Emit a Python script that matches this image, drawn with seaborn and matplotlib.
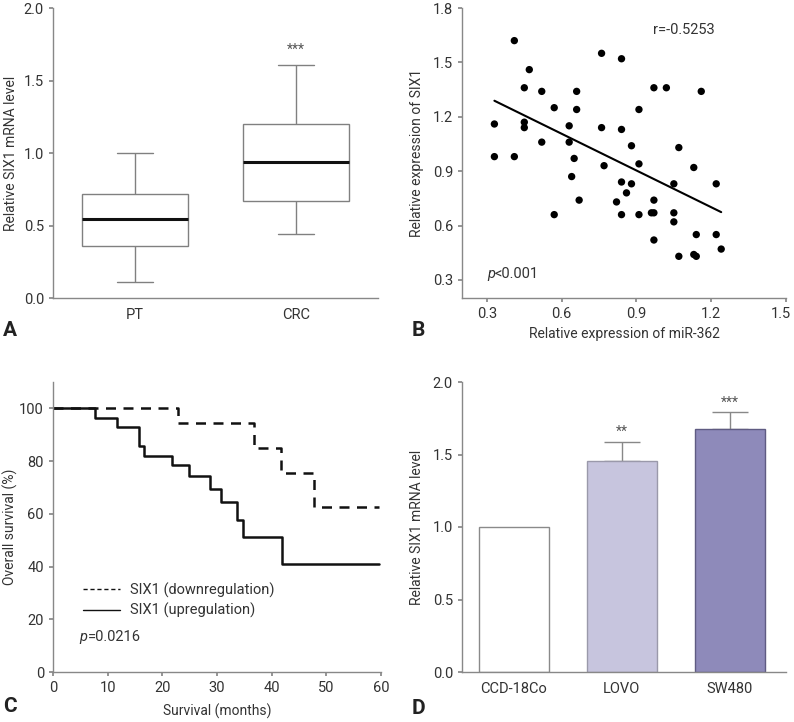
import numpy as np
import pandas as pd
import matplotlib
matplotlib.use("Agg")
import matplotlib.pyplot as plt
import matplotlib.transforms as mtrans
import seaborn as sns
from matplotlib.lines import Line2D

# ---------------- data ----------------
# Panel A: box summary (low whisker, Q1, median, Q3, high whisker)
box_groups = ["PT", "CRC"]
pt_stats = [0.11, 0.36, 0.545, 0.72, 1.00]
crc_stats = [0.44, 0.67, 0.94, 1.20, 1.61]

# Panel B: scatter
mir362 = [0.41, 0.76, 0.84, 0.47, 0.45, 0.52, 0.66, 0.97, 1.02, 1.16,
          0.57, 0.66, 0.91, 0.33, 0.45, 0.45, 0.63, 0.76, 0.84, 0.52,
          0.63, 0.88, 1.07, 0.33, 0.41, 0.65, 0.77, 0.91, 1.13, 0.64,
          0.84, 0.88, 1.05, 1.22, 0.86, 0.67, 0.82, 0.97, 0.57, 0.84,
          0.91, 0.96, 0.97, 1.05, 1.05, 0.97, 1.14, 1.22, 1.24, 1.07,
          1.13, 1.14]
six1 = [1.62, 1.55, 1.52, 1.46, 1.36, 1.34, 1.34, 1.36, 1.36, 1.34,
        1.25, 1.24, 1.24, 1.16, 1.17, 1.14, 1.15, 1.14, 1.13, 1.06,
        1.06, 1.04, 1.03, 0.98, 0.98, 0.97, 0.93, 0.94, 0.92, 0.87,
        0.84, 0.83, 0.83, 0.83, 0.78, 0.74, 0.73, 0.74, 0.66, 0.66,
        0.66, 0.67, 0.67, 0.67, 0.62, 0.52, 0.55, 0.55, 0.47, 0.43,
        0.44, 0.43]

# Panel C: Kaplan-Meier step curves
down_time = [0, 22.8, 36.7, 41.7, 47.7, 59.6]
down_surv = [100, 94.3, 85.0, 75.4, 62.6, 62.6]
up_time = [0, 7.75, 11.7, 15.75, 16.7, 21.8, 24.8, 28.75, 30.7, 33.7, 34.7, 41.8, 59.6]
up_surv = [100, 96.3, 93.0, 85.8, 82.1, 78.6, 74.5, 69.6, 64.3, 57.8, 51.2, 41.0, 41.0]

# Panel D: bars
cells = ["CCD-18Co", "LOVO", "SW480"]
cell_vals = [1.0, 1.453, 1.674]
cell_err = [0.0, 0.133, 0.117]
cell_sig = ["", "**", "***"]

# ---------------- style ----------------
sns.set_theme(style="ticks")
plt.rcParams["font.family"] = ["Roboto", "DejaVu Sans"]
TXT = "#333333"
SP = "#888888"
FS = 10.5
plt.rcParams.update({
    "axes.edgecolor": SP, "axes.linewidth": 1.0,
    "xtick.color": SP, "ytick.color": SP,
    "xtick.labelcolor": TXT, "ytick.labelcolor": TXT,
    "xtick.labelsize": FS, "ytick.labelsize": FS,
    "xtick.major.size": 3, "ytick.major.size": 3,
    "axes.labelcolor": TXT, "axes.labelsize": 10,
    "text.color": TXT,
})

fig = plt.figure(figsize=(7.94, 7.22), dpi=100)
W, H = 794, 722
def add_ax(l, r, t, b):
    return fig.add_axes([l / W, 1 - b / H, (r - l) / W, (b - t) / H])

axA = add_ax(53, 378, 8, 298)
axB = add_ax(462, 786, 8, 298)
axC = add_ax(53, 381, 382, 672)
axD = add_ax(462, 786, 382, 672)

# ---------- Panel A ----------
dfA = pd.DataFrame({"group": ["PT"] * 5 + ["CRC"] * 5, "val": pt_stats + crc_stats})
sns.boxplot(data=dfA, x="group", y="val", order=box_groups, ax=axA, width=0.66,
            color="white", linecolor="#808080", linewidth=1.0, whis=np.inf,
            capwidths=0.22,
            medianprops=dict(color="#111111", linewidth=2.2))
axA.set_xlim(-0.51, 1.51)
axA.set_ylim(0, 2.0)
axA.set_yticks(np.arange(0, 2.01, 0.5))
axA.set_yticklabels([f"{v:.1f}" for v in np.arange(0, 2.01, 0.5)])
axA.set_xlabel("")
axA.set_ylabel("Relative SIX1 mRNA level")
axA.yaxis.set_label_coords(-0.108, 0.5)
axA.tick_params(axis="x", length=0, pad=7)
axA.text(1, 1.66, "***", ha="center", va="bottom", fontsize=10, color="#555555")
sns.despine(ax=axA)

# ---------- Panel B ----------
sns.regplot(x=mir362, y=six1, ax=axB, ci=None, truncate=True,
            scatter_kws=dict(s=28, color="black", edgecolor="none", alpha=1),
            line_kws=dict(color="black", linewidth=1.5))
axB.set_xlim(0.2, 1.5)
axB.set_ylim(0.2, 1.8)
axB.set_xticks(np.arange(0.3, 1.51, 0.3))
axB.set_xticklabels([f"{v:.1f}" for v in np.arange(0.3, 1.51, 0.3)])
axB.set_yticks(np.arange(0.3, 1.81, 0.3))
axB.set_yticklabels([f"{v:.1f}" for v in np.arange(0.3, 1.81, 0.3)])
last = axB.get_xticklabels()[-1]
last.set_transform(last.get_transform() +
                   mtrans.ScaledTranslation(-5 / 100, 0, fig.dpi_scale_trans))
axB.set_xlabel("Relative expression of miR-362", labelpad=4)
axB.set_ylabel("Relative expression of SIX1")
axB.yaxis.set_label_coords(-0.117, 0.5)
axB.text(0.967, 1.68, "r=-0.5253", fontsize=FS, va="center")
tp = axB.text(0.3, 0.33, "p", fontsize=FS, style="italic", va="center")
axB.annotate("<0.001", xy=(1, 0), xycoords=tp, va="bottom", fontsize=FS)
sns.despine(ax=axB)

# ---------- Panel C ----------
sns.lineplot(x=down_time, y=down_surv, ax=axC, drawstyle="steps-post",
             color="#111111", linewidth=1.8, linestyle=(0, (4, 3)))
sns.lineplot(x=up_time, y=up_surv, ax=axC, drawstyle="steps-post",
             color="#111111", linewidth=1.8)
axC.set_xlim(0, 60)
axC.set_ylim(0, 110)
axC.set_xticks(range(0, 61, 10))
axC.set_yticks(range(0, 101, 20))
axC.set_xlabel("Survival (months)", labelpad=6)
axC.set_ylabel("Overall survival (%)")
axC.yaxis.set_label_coords(-0.107, 0.5)
handles = [Line2D([], [], color="#111111", lw=1.0, linestyle=(0, (3, 2))),
           Line2D([], [], color="#111111", lw=1.0)]
axC.legend(handles, ["SIX1 (downregulation)", "SIX1 (upregulation)"],
           loc="lower left", bbox_to_anchor=(0.075, 0.165), frameon=False,
           fontsize=FS, handlelength=2.5, handletextpad=0.7, labelspacing=0.35,
           borderaxespad=0)
tc = axC.text(4.9, 13.3, "p", fontsize=FS, style="italic", va="center")
axC.annotate("=0.0216", xy=(1, 0), xycoords=tc, va="bottom", fontsize=FS)
sns.despine(ax=axC)

# ---------- Panel D ----------
bar_colors = ["#ffffff", "#c7c5de", "#8e8aba"]
edge_colors = ["#8a8a8a", "#9a99aa", "#5f5b82"]
sns.barplot(x=cells, y=cell_vals, hue=cells, palette=bar_colors, ax=axD,
            width=0.65, saturation=1, legend=False, errorbar=None,
            linewidth=1.0)
for p, ec in zip(axD.patches, edge_colors):
    p.set_edgecolor(ec)
xs = np.arange(len(cells))
for xi, v, e, s in zip(xs, cell_vals, cell_err, cell_sig):
    if e > 0:
        axD.errorbar([xi], [v], yerr=[[0], [e]], color="#888888", capsize=13,
                     elinewidth=1.0, capthick=1.0, fmt="none", zorder=0)
        axD.text(xi, v + e + 0.02, s, ha="center", va="bottom", fontsize=10,
                 color="#555555")
axD.set_xlim(-0.48, 2.52)
axD.set_ylim(0, 2.0)
axD.set_yticks(np.arange(0, 2.01, 0.5))
axD.set_yticklabels([f"{v:.1f}" for v in np.arange(0, 2.01, 0.5)])
axD.set_ylabel("Relative SIX1 mRNA level")
axD.yaxis.set_label_coords(-0.117, 0.5)
axD.tick_params(axis="x", length=0, pad=7)
sns.despine(ax=axD)

# panel letters
for lab, (x, y) in zip("ABCD", [(3, 331), (412, 331), (3, 707), (412, 709)]):
    fig.text(x / W, 1 - y / H, lab, fontsize=15, fontweight="bold",
             color="#222222", va="center", ha="left")

fig.savefig("out.png", dpi=100)
